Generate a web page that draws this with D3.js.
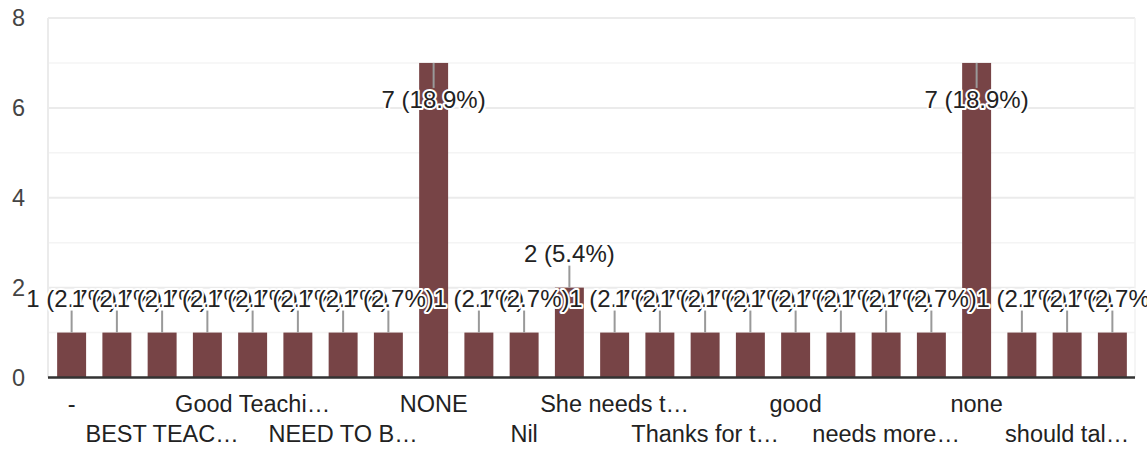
<!DOCTYPE html>
<html>
<head>
<meta charset="utf-8">
<script src="https://cdn.jsdelivr.net/npm/d3@7"></script>
<style>
  html, body { margin: 0; padding: 0; background: #fff; }
  svg { display: block; font-family: "Liberation Sans", Arial, sans-serif; }
</style>
</head>
<body>
<svg id="chart" width="1147" height="452"></svg>
<script>
// ---- data ----
// x-axis tick labels (only every second category label is shown in the original)
const tickLabels = ["-", "", "BEST TEAC\u2026", "", "Good Teachi\u2026", "", "NEED TO B\u2026", "",
  "NONE", "", "Nil", "", "She needs t\u2026", "", "Thanks for t\u2026", "", "good", "",
  "needs more\u2026", "", "none", "", "should tal\u2026", ""];
const counts = [1, 1, 1, 1, 1, 1, 1, 1, 7, 1, 1, 2, 1, 1, 1, 1, 1, 1, 1, 1, 7, 1, 1, 1];
const yTicks = [0, 2, 4, 6, 8];
const yGrid = [0, 1, 2, 3, 4, 5, 6, 7, 8];

// ---- layout ----
const svg = d3.select("#chart");
const plotL = 49, plotR = 1135, plotT = 18, plotB = 377.5;
const total = d3.sum(counts);

const x = d3.scaleBand().domain(d3.range(counts.length)).range([plotL, plotR]).paddingInner(0.36).paddingOuter(0.18);
const y = d3.scaleLinear().domain([0, 8]).range([plotB, plotT]);

// gridlines
svg.append("g").selectAll("line").data(yGrid).join("line")
  .attr("x1", plotL - 1).attr("x2", plotR)
  .attr("y1", d => y(d)).attr("y2", d => y(d))
  .attr("stroke", d => d % 2 === 0 ? "#ebebeb" : "#f4f4f4")
  .attr("stroke-width", d => d % 2 === 0 ? 2 : 1.5);
svg.append("line").attr("x1", plotL - 1).attr("x2", plotL - 1).attr("y1", plotT).attr("y2", plotB)
  .attr("stroke", "#ebebeb").attr("stroke-width", 2);
svg.append("line").attr("x1", plotR).attr("x2", plotR).attr("y1", plotT).attr("y2", plotB)
  .attr("stroke", "#f2f2f2").attr("stroke-width", 1.5);

// y-axis labels
const yAxis = d3.axisLeft(y).tickValues(yTicks).tickSize(0).tickPadding(0).tickFormat(d3.format("d"));
const gy = svg.append("g").attr("transform", "translate(25,0)").call(yAxis);
gy.select(".domain").remove();
gy.selectAll("text").attr("font-size", 23.5).attr("fill", "#444").attr("font-family", "Liberation Sans, Arial, sans-serif");

// bars
svg.append("g").selectAll("rect").data(counts).join("rect")
  .attr("x", (d, i) => x(i)).attr("width", x.bandwidth())
  .attr("y", d => y(d)).attr("height", d => y(0) - y(d))
  .attr("fill", "#774446");

// baseline
svg.append("line").attr("x1", plotL - 1).attr("x2", plotR).attr("y1", plotB).attr("y2", plotB)
  .attr("stroke", "#333").attr("stroke-width", 2.5);

// x-axis labels (alternating rows)
const xAxis = d3.axisBottom(x).tickSize(0).tickPadding(0).tickFormat(i => tickLabels[i]);
const gx = svg.append("g").call(xAxis);
gx.select(".domain").remove();
gx.selectAll(".tick text")
  .attr("font-size", 23.5).attr("fill", "#222").attr("font-family", "Liberation Sans, Arial, sans-serif")
  .attr("dy", null)
  .attr("y", (i) => (i % 4 === 0 ? 412 : 442));

// annotations: stem + label with white halo, drawn bar by bar
const fmt = d => `${d} (${(d / total * 100).toFixed(1)}%)`;
const ann = svg.append("g");
counts.forEach((d, i) => {
  const cx = x(i) + x.bandwidth() / 2;
  const barTop = y(d);
  const inside = d >= 7;
  const stemEnd = inside ? barTop + 25 : barTop - 22;
  const base = inside ? barTop + 45 : barTop - 26;
  ann.append("line").attr("x1", cx).attr("x2", cx).attr("y1", barTop).attr("y2", stemEnd)
    .attr("stroke", "#999").attr("stroke-width", 2);
  ann.append("text").attr("x", cx).attr("y", base).attr("text-anchor", "middle")
    .attr("font-size", 24).attr("fill", "#222")
    .attr("stroke", "#fff").attr("stroke-width", 4).attr("stroke-linejoin", "round")
    .attr("paint-order", "stroke")
    .text(fmt(d));
});
</script>
</body>
</html>
